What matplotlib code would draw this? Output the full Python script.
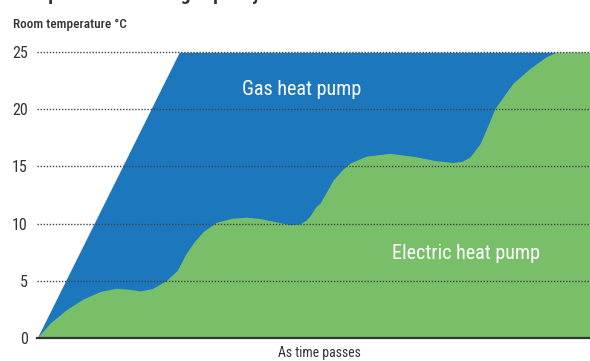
import matplotlib.pyplot as plt

# time axis is unitless ("as time passes")
gas_time = [0, 142, 553]
gas_temp = [0, 25, 25]

electric_time = [0, 13, 29, 46, 63, 79, 91, 103, 115, 129, 140, 149, 157, 166,
                 179, 194, 209, 222, 236, 253, 262, 269, 273, 279, 283, 296,
                 305, 313, 329, 353, 379, 399, 416, 425, 433, 443, 449, 458,
                 476, 493, 509, 519, 553]
electric_temp = [0, 1.3, 2.45, 3.4, 4.05, 4.33, 4.25, 4.1, 4.3, 5.0, 5.9, 7.4,
                 8.4, 9.3, 10.1, 10.45, 10.56, 10.45, 10.2, 9.9, 9.95, 10.3,
                 10.7, 11.5, 11.8, 13.8, 14.7, 15.3, 15.9, 16.15, 15.85, 15.5,
                 15.35, 15.45, 15.85, 17.0, 18.2, 20.1, 22.3, 23.6, 24.6, 25, 25]

yticks = [0, 5, 10, 15, 20, 25]

BLUE = "#1d77bd"
GREEN = "#79bf6a"
INK = "#333333"

plt.rcParams["font.family"] = ["Roboto Condensed", "DejaVu Sans"]

fig = plt.figure(figsize=(5.9, 3.61), dpi=100)
ax = fig.add_axes([0.0632, 0.0645, 0.9368, 0.8222])

ax.fill_between(gas_time, gas_temp, color=BLUE, linewidth=0, zorder=1)
ax.fill_between(electric_time, electric_temp, color=GREEN, linewidth=0, zorder=2)

for y in yticks[1:]:
    ax.axhline(y, color="#444444", lw=1, dashes=(1, 1.2), zorder=3)

ax.set_xlim(0, 553)
ax.set_ylim(0, 26)
ax.set_yticks(yticks)
ax.set_xticks([])
ax.tick_params(axis="y", length=0, pad=7, labelsize=11.5, colors=INK)
for s in ("top", "right", "left"):
    ax.spines[s].set_visible(False)
ax.spines["bottom"].set_color(INK)
ax.spines["bottom"].set_linewidth(1.6)
ax.spines["bottom"].set_zorder(4)

# series labels sit inside their own areas
ax.text(264, 21.3, "Gas heat pump", color="white",
        fontsize=14.5, ha="center", va="baseline")
ax.text(429, 6.87, "Electric heat pump", color="white",
        fontsize=14.5, ha="center", va="baseline")

fig.text(0.542, 0.011, "As time passes", ha="center", va="baseline",
         fontsize=10, color=INK)
fig.text(0.022, 0.923, "Room temperature °C", ha="left", va="baseline",
         fontsize=9.5, fontweight="medium", color=INK)
fig.text(0.022, 0.999, "Comparison of heating capacity", ha="left",
         va="baseline", fontsize=14, fontweight="bold", color=INK)

fig.savefig("out.png", dpi=100)
